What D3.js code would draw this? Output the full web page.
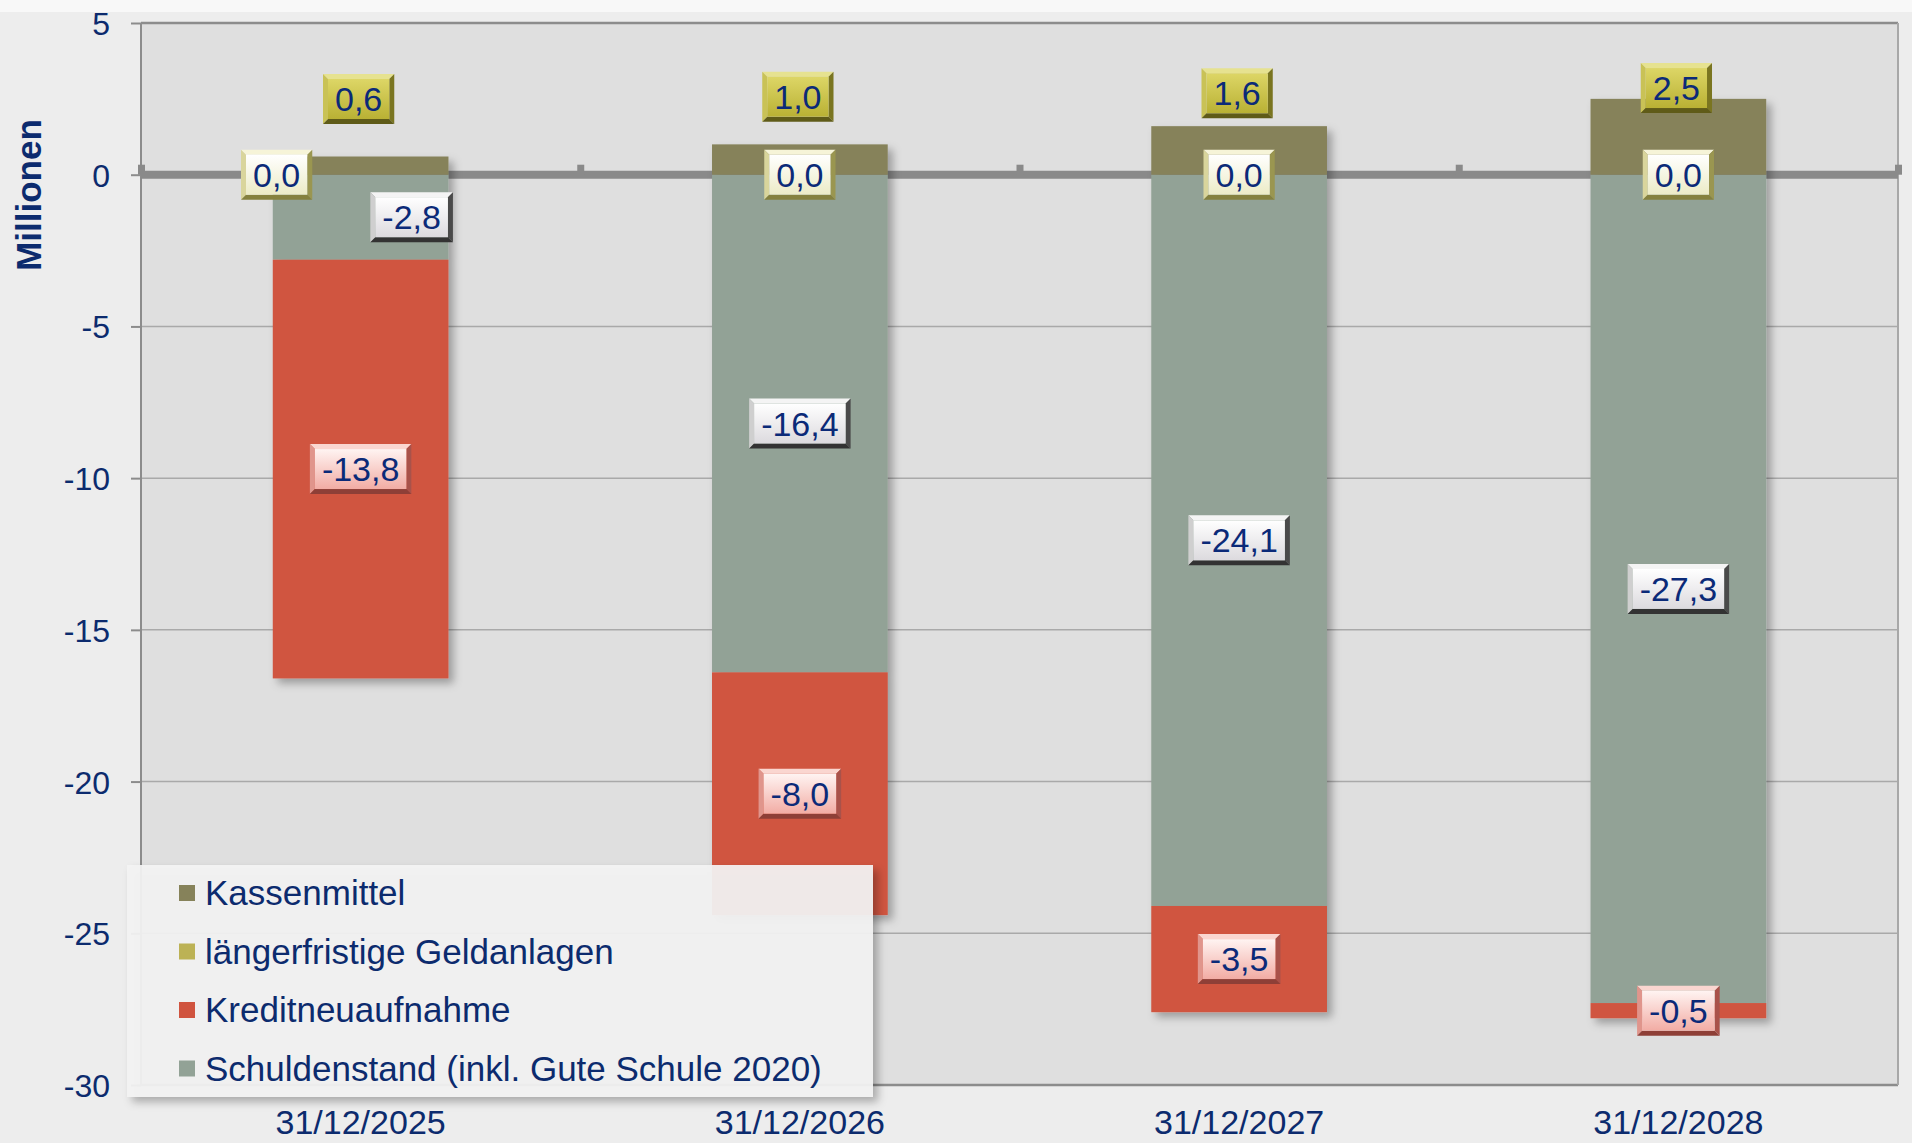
<!DOCTYPE html>
<html>
<head>
<meta charset="utf-8">
<script src="https://cdn.jsdelivr.net/npm/d3@7"></script>
<style>
  body { margin: 0; background: #ededed; overflow: hidden; }
  svg { display: block; }
</style>
</head>
<body>
<div id="container"></div>
<script>
// data (Millionen)
const categories = ["31/12/2025", "31/12/2026", "31/12/2027", "31/12/2028"];
const kassenmittel = [0.6, 1.0, 1.6, 2.5];
const geldanlagen = [0.0, 0.0, 0.0, 0.0];
const kreditneuaufnahme = [-13.8, -8.0, -3.5, -0.5];
const schuldenstand = [-2.8, -16.4, -24.1, -27.3];
const yTicks = [5, 0, -5, -10, -15, -20, -25, -30];
const seriesNames = ["Kassenmittel", "längerfristige Geldanlagen", "Kreditneuaufnahme", "Schuldenstand (inkl. Gute Schule 2020)"];

let w = 1912;
let h = 1143;
let plotLeft = 141, plotRight = 1898, plotTop = 23, plotBottom = 1085;

const colors = {
  kasse: "#86825a",
  geld: "#bcb255",
  kredit: "#d0543f",
  schuld: "#92a296"
};
const textColor = "#0c2b6e";
// German decimal comma, plain hyphen for negatives
const fmt = v => d3.format(".1f")(v).replace(".", ",").replace("\u2212", "-");

let viz = d3.select("#container")
  .append("svg")
    .attr("width", w)
    .attr("height", h)
    .style("background-color", "#ededed");

const defs = viz.append("defs");
const shadow = defs.append("filter").attr("id", "shadow")
  .attr("x", "-20%").attr("y", "-20%").attr("width", "150%").attr("height", "150%");
shadow.append("feDropShadow").attr("dx", 5).attr("dy", 5).attr("stdDeviation", 4)
  .attr("flood-color", "#000").attr("flood-opacity", 0.3);

// bevel face gradients
const bevelStyles = {
  kasse:  { top: "#e6e290", left: "#c9c256", right: "#7a7520", bottom: "#5f5b18", f1: "#ddd666", f2: "#b9b134" },
  geld:   { top: "#f6f4d8", left: "#d9d59c", right: "#9a9650", bottom: "#85813e", f1: "#ffffff", f2: "#ecebc6" },
  schuld: { top: "#f4f4f4", left: "#cfcfcf", right: "#4a4a4a", bottom: "#333333", f1: "#ffffff", f2: "#dcdade" },
  kredit: { top: "#fad6d0", left: "#e0958c", right: "#a9524a", bottom: "#8e3f37", f1: "#fff4f2", f2: "#f2aca4" }
};
Object.entries(bevelStyles).forEach(([k, s]) => {
  const g = defs.append("linearGradient").attr("id", "face-" + k)
    .attr("x1", 0).attr("y1", 0).attr("x2", 0).attr("y2", 1);
  g.append("stop").attr("offset", "0%").attr("stop-color", s.f1);
  g.append("stop").attr("offset", "100%").attr("stop-color", s.f2);
});

// outer top strip
viz.append("rect").attr("x", 0).attr("y", 0).attr("width", w).attr("height", 12).attr("fill", "#f8f8f8");

// scales
const xScale = d3.scaleBand()
  .domain(categories)
  .range([plotLeft, plotRight])
  .paddingInner(0.6)
  .paddingOuter(0.3);

const yScale = d3.scaleLinear()
  .domain([-30, 5])
  .range([plotBottom, plotTop]);

// plot area
viz.append("rect")
  .attr("x", plotLeft).attr("y", plotTop)
  .attr("width", plotRight - plotLeft).attr("height", plotBottom - plotTop)
  .attr("fill", "#dfdfdf");

// y axis ticks + labels
const yAxis = viz.append("g")
  .attr("transform", `translate(${plotLeft},0)`)
  .call(d3.axisLeft(yScale).tickValues(yTicks).tickSize(10).tickFormat(d3.format("d")));
yAxis.select(".domain").remove();
yAxis.selectAll(".tick line").attr("stroke", "#8c8c8c").attr("stroke-width", 2);
yAxis.selectAll(".tick text")
  .attr("x", -31)
  .attr("dy", "0.36em")
  .attr("fill", textColor)
  .style("font-family", "'Liberation Sans', Arial, sans-serif")
  .style("font-size", "32px")
  .text(d => String(d));

// gridlines
viz.append("g").selectAll("line")
  .data(yTicks.filter(d => d !== 0))
  .enter().append("line")
    .attr("x1", plotLeft).attr("x2", plotRight)
    .attr("y1", d => yScale(d)).attr("y2", d => yScale(d))
    .attr("stroke", d => (d === 5 || d === -30) ? "#8c8c8c" : "#a9a9a9")
    .attr("stroke-width", d => (d === 5 || d === -30) ? 2.5 : 1.5);

// axis lines
viz.append("line").attr("x1", plotLeft).attr("x2", plotLeft).attr("y1", plotTop).attr("y2", plotBottom)
  .attr("stroke", "#8c8c8c").attr("stroke-width", 2);
viz.append("line").attr("x1", plotRight).attr("x2", plotRight).attr("y1", plotTop).attr("y2", plotBottom)
  .attr("stroke", "#a8a8a8").attr("stroke-width", 2);

// zero line with category tick marks
viz.append("line")
  .attr("x1", plotLeft).attr("x2", plotRight)
  .attr("y1", yScale(0)).attr("y2", yScale(0))
  .attr("stroke", "#8a8a8a").attr("stroke-width", 8);
const boundaries = categories.map(c => xScale(c) - xScale.step() * xScale.paddingOuter()).concat([plotRight]);
viz.append("g").selectAll("rect")
  .data(boundaries)
  .enter().append("rect")
    .attr("x", d => d - 3).attr("y", yScale(0) - 10)
    .attr("width", 7).attr("height", 10)
    .attr("fill", "#8a8a8a");

// stacked segments
const rows = categories.map((c, i) => ({
  cat: c,
  segs: [
    { key: "schuld", y0: 0, y1: schuldenstand[i] },
    { key: "kredit", y0: schuldenstand[i], y1: schuldenstand[i] + kreditneuaufnahme[i] },
    { key: "kasse", y0: 0, y1: kassenmittel[i] },
    { key: "geld", y0: kassenmittel[i], y1: kassenmittel[i] + geldanlagen[i] }
  ]
}));

const barGroups = viz.append("g").selectAll("g")
  .data(rows)
  .enter().append("g")
    .attr("filter", "url(#shadow)");

barGroups.selectAll("rect")
  .data(d => d.segs.map(s => ({ ...s, cat: d.cat })))
  .enter().append("rect")
    .attr("x", d => xScale(d.cat))
    .attr("width", xScale.bandwidth())
    .attr("y", d => yScale(Math.max(d.y0, d.y1)))
    .attr("height", d => Math.abs(yScale(d.y0) - yScale(d.y1)))
    .attr("fill", d => colors[d.key]);

// legend
const legend = viz.append("g").attr("transform", "translate(127,865)");
legend.append("rect")
  .attr("width", 746).attr("height", 232)
  .attr("fill", "#f3f3f3").attr("fill-opacity", 0.93)
  .attr("filter", "url(#shadow)");
const legendKeys = ["kasse", "geld", "kredit", "schuld"];
const legendItems = legend.selectAll("g.item")
  .data(seriesNames)
  .enter().append("g")
    .attr("class", "item")
    .attr("transform", (d, i) => `translate(0,${28 + i * 58.5})`);
legendItems.append("rect")
  .attr("x", 52).attr("y", -8)
  .attr("width", 16).attr("height", 16)
  .attr("fill", (d, i) => colors[legendKeys[i]]);
legendItems.append("text")
  .attr("x", 78).attr("y", 12)
  .attr("fill", textColor)
  .style("font-family", "'Liberation Sans', Arial, sans-serif")
  .style("font-size", "35px")
  .text(d => d);

// category labels
viz.append("g").selectAll("text")
  .data(categories)
  .enter().append("text")
    .attr("x", d => xScale(d) + xScale.bandwidth() / 2)
    .attr("y", 1134)
    .attr("text-anchor", "middle")
    .attr("fill", textColor)
    .style("font-family", "'Liberation Sans', Arial, sans-serif")
    .style("font-size", "34px")
    .text(d => d);

// axis title
viz.append("text")
  .attr("transform", "translate(41,195) rotate(-90)")
  .attr("text-anchor", "middle")
  .attr("fill", textColor)
  .style("font-family", "'Liberation Sans', Arial, sans-serif")
  .style("font-size", "35px")
  .style("font-weight", "bold")
  .text("Millionen");

// bevelled data labels
function bevelLabel(cx, cy, txt, key) {
  const s = bevelStyles[key];
  const g = viz.append("g");
  const t = g.append("text")
    .attr("text-anchor", "middle")
    .attr("fill", "#0b2a78")
    .style("font-family", "'Liberation Sans', Arial, sans-serif")
    .style("font-size", "34px")
    .text(txt);
  const bw = t.node().getComputedTextLength() + 24;
  const bh = 50, b = 5;
  const x0 = cx - bw / 2, y0 = cy - bh / 2;
  const pts = {
    top: [[0, 0], [bw, 0], [bw - b, b], [b, b]],
    left: [[0, 0], [b, b], [b, bh - b], [0, bh]],
    right: [[bw, 0], [bw, bh], [bw - b, bh - b], [bw - b, b]],
    bottom: [[0, bh], [bw, bh], [bw - b, bh - b], [b, bh - b]]
  };
  const box = g.insert("g", "text").attr("transform", `translate(${x0},${y0})`);
  Object.entries(pts).forEach(([side, p]) => {
    box.append("polygon").attr("points", p.map(q => q.join(",")).join(" ")).attr("fill", s[side]);
  });
  box.append("rect").attr("x", b).attr("y", b).attr("width", bw - 2 * b).attr("height", bh - 2 * b)
    .attr("fill", `url(#face-${key})`);
  t.attr("x", cx).attr("y", cy + 12);
}

const band = xScale.bandwidth();
categories.forEach((c, i) => {
  const cx = xScale(c) + band / 2;
  // Schuldenstand, Kreditneuaufnahme centred on their segments
  const sx = i === 0 ? cx + 51 : cx;
  bevelLabel(sx, yScale(schuldenstand[i] / 2), fmt(schuldenstand[i]), "schuld");
  bevelLabel(cx, yScale(schuldenstand[i] + kreditneuaufnahme[i] / 2), fmt(kreditneuaufnahme[i]), "kredit");
  // Kassenmittel above its bar
  const ky = 0.81 * yScale(2.94) + 0.19 * yScale(kassenmittel[i]);
  bevelLabel(cx - 2, ky, fmt(kassenmittel[i]), "kasse");
  // Geldanlagen on the zero line
  const gx = i === 0 ? cx - 84 : cx;
  bevelLabel(gx, yScale(geldanlagen[i]), fmt(geldanlagen[i]), "geld");
});
</script>
</body>
</html>
